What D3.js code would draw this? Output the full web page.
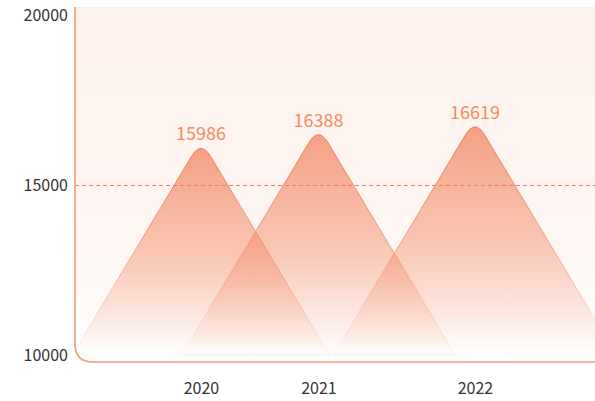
<!DOCTYPE html>
<html><head><meta charset="utf-8">
<script src="https://cdn.jsdelivr.net/npm/d3@7"></script>
<style>html,body{margin:0;padding:0;background:#fff;}svg{display:block;font-family:"Noto Sans CJK SC","Noto Sans",sans-serif;}</style>
</head><body>
<svg id="c" width="595" height="401"></svg>
<script>
const categories = ["2020", "2021", "2022"];
const values = [15986, 16388, 16619];
const slots = [0, 3, 7];            // position of each year on the (unlabelled) category axis
const yTicks = [10000, 15000, 20000];
const refLine = 15000;

const W = 595, H = 401;
const plot = {left: 75, top: 7, bottom: 362, right: 600};
const svg = d3.select("#c");
const defs = svg.append("defs");
const FONT = "Noto Sans CJK SC, Noto Sans, sans-serif";

const y = d3.scaleLinear().domain([10000, 20000]).range([355, 15]);
const x = d3.scaleLinear().domain([0, 7]).range([201, 475]);

// background gradient
const bg = defs.append("linearGradient").attr("id", "bg").attr("x1", 0).attr("y1", 0).attr("x2", 0).attr("y2", 1);
bg.append("stop").attr("offset", "0%").attr("stop-color", "#fdf1ec");
bg.append("stop").attr("offset", "70%").attr("stop-color", "#fef7f4");
bg.append("stop").attr("offset", "100%").attr("stop-color", "#ffffff");

const r = 18;
svg.append("path")
  .attr("d", `M${plot.left},${plot.top} V${plot.bottom - r} Q${plot.left},${plot.bottom} ${plot.left + r},${plot.bottom} H${plot.right} V${plot.top} Z`)
  .attr("fill", "url(#bg)");

// triangle gradients
const fg = defs.append("linearGradient").attr("id", "fillg").attr("x1", 0).attr("y1", 0).attr("x2", 0).attr("y2", 1);
fg.append("stop").attr("offset", "0%").attr("stop-color", "rgb(241,128,88)").attr("stop-opacity", 0.72);
fg.append("stop").attr("offset", "55%").attr("stop-color", "rgb(241,128,88)").attr("stop-opacity", 0.38);
fg.append("stop").attr("offset", "100%").attr("stop-color", "rgb(241,128,88)").attr("stop-opacity", 0.0);
const sg = defs.append("linearGradient").attr("id", "strokeg").attr("x1", 0).attr("y1", 0).attr("x2", 0).attr("y2", 1);
sg.append("stop").attr("offset", "0%").attr("stop-color", "#ef7650").attr("stop-opacity", 1);
sg.append("stop").attr("offset", "60%").attr("stop-color", "#f08a66").attr("stop-opacity", 0.6);
sg.append("stop").attr("offset", "100%").attr("stop-color", "#f5a888").attr("stop-opacity", 0.1);

const clip = defs.append("clipPath").attr("id", "pc");
clip.append("rect").attr("x", plot.left).attr("y", plot.top).attr("width", W).attr("height", plot.bottom - plot.top);

const data = categories.map((c, i) => ({cat: c, value: values[i], slot: slots[i]}));

const lift = 3;  // rounded tip sits slightly above the value
function triPath(d) {
  const cx = x(d.slot), y0 = y(10000);
  const visTop = y(d.value) - lift;
  const t = 16;                 // vertical extent of the rounded tip
  const apex = visTop - t / 2;  // virtual sharp apex
  const h = y0 - apex;
  const w = 0.6 * h;
  const k = t / h;
  const lx = cx - w * k, rx = cx + w * k, ty = apex + t;
  return `M${cx - w},${y0} L${lx},${ty} Q${cx},${apex} ${rx},${ty} L${cx + w},${y0} Z`;
}

const g = svg.append("g").attr("clip-path", "url(#pc)");
g.selectAll("path.tri").data(data).join("path")
  .attr("class", "tri")
  .attr("d", triPath)
  .attr("fill", "url(#fillg)")
  .attr("stroke", "url(#strokeg)")
  .attr("stroke-width", 1);

// dashed reference line
svg.append("line")
  .attr("x1", plot.left).attr("x2", W)
  .attr("y1", y(refLine) + 0.5).attr("y2", y(refLine) + 0.5)
  .attr("stroke", "#f07a52").attr("stroke-width", 1.1)
  .attr("stroke-dasharray", "4,3");

// border (left + rounded corner + bottom)
svg.append("path")
  .attr("d", `M${plot.left},${plot.top} V${plot.bottom - r} Q${plot.left},${plot.bottom} ${plot.left + r},${plot.bottom} H${W}`)
  .attr("fill", "none").attr("stroke", "#f39a78").attr("stroke-width", 1.6);

// value labels
svg.selectAll("text.val").data(data).join("text")
  .attr("class", "val")
  .attr("x", d => x(d.slot))
  .attr("y", d => y(d.value) - lift - 8)
  .attr("text-anchor", "middle")
  .attr("font-family", FONT)
  .attr("font-size", 18)
  .attr("fill", "#f58b63")
  .text(d => d.value);

// y axis labels
const yAxis = d3.axisLeft(y).tickValues(yTicks).tickSize(0).tickPadding(0).tickFormat(d3.format("d"));
const ya = svg.append("g").attr("transform", "translate(68,0)").call(yAxis);
ya.select(".domain").remove();
ya.selectAll("text").attr("font-size", 16).attr("fill", "#333").attr("font-family", FONT);

// x axis labels
const xAxis = d3.axisBottom(x).tickValues(slots).tickSize(0).tickPadding(0)
  .tickFormat(s => categories[slots.indexOf(s)]);
const xa = svg.append("g").attr("transform", "translate(0,383)").call(xAxis);
xa.select(".domain").remove();
xa.selectAll("text").attr("font-size", 16).attr("fill", "#333").attr("font-family", FONT);
</script>
</body></html>
